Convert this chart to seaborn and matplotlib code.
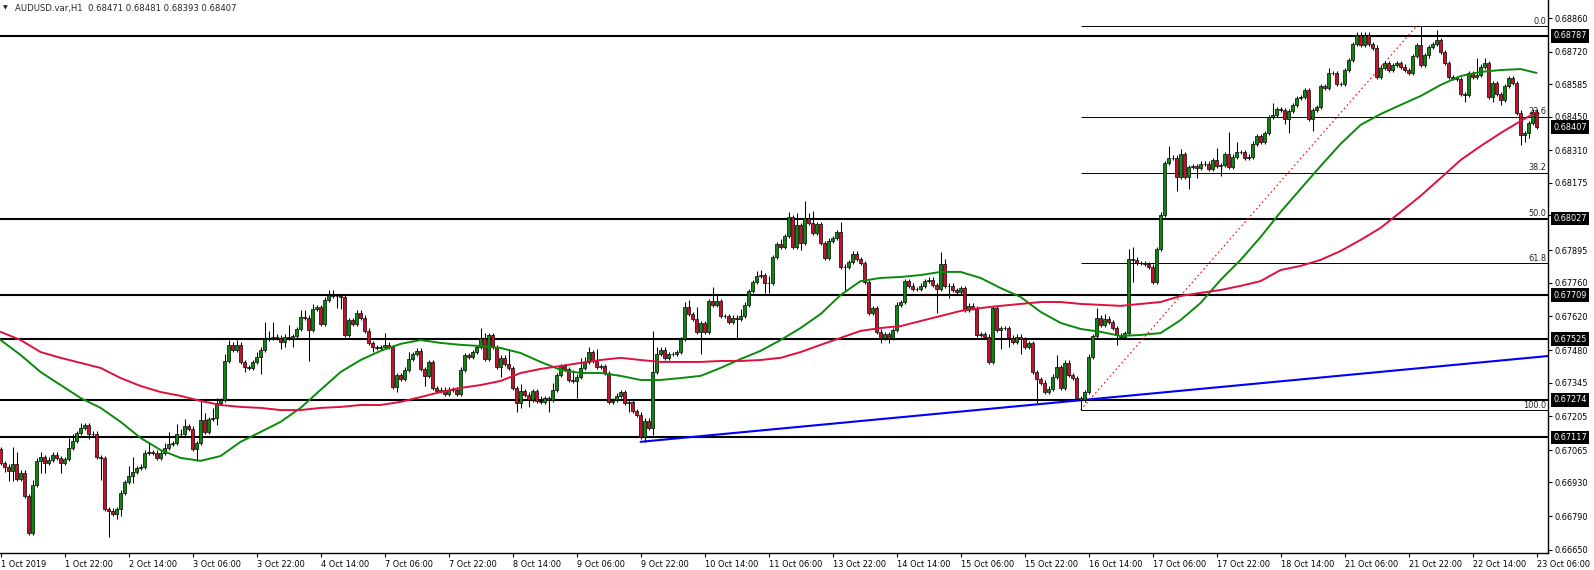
#!/usr/bin/env python3
"""AUDUSD H1 candles with MAs, levels, fibo and trendline -> out.png"""

import matplotlib
matplotlib.use("Agg")
import matplotlib.pyplot as plt
import matplotlib.transforms as mtransforms
import numpy as np
import pandas as pd
import seaborn as sns

TITLE = "AUDUSD.var,H1  0.68471 0.68481 0.68393 0.68407"

# hourly closes, 1 Oct 06:00 .. 23 Oct 06:00 (open of each bar = previous close)
FIRST_OPEN = 0.67069
CLOSE = [
    0.67011, 0.66995, 0.66978, 0.67007, 0.66945, 0.66970, 0.66874, 0.66720, 0.66920, 0.67020, 0.67036, 0.67011, 0.67024, 0.67045, 0.67032, 0.67011,
    0.67028, 0.67074, 0.67103, 0.67136, 0.67157, 0.67169, 0.67132, 0.67132, 0.67036, 0.67032, 0.66820, 0.66812, 0.66799, 0.66820, 0.66887, 0.66932,
    0.66957, 0.66974, 0.66990, 0.66995, 0.67053, 0.67057, 0.67053, 0.67032, 0.67053, 0.67074, 0.67090, 0.67094, 0.67132, 0.67132, 0.67165, 0.67153,
    0.67069, 0.67094, 0.67190, 0.67140, 0.67194, 0.67198, 0.67261, 0.67273, 0.67435, 0.67502, 0.67481, 0.67502, 0.67431, 0.67410, 0.67406, 0.67431,
    0.67452, 0.67481, 0.67526, 0.67531, 0.67535, 0.67531, 0.67514, 0.67535, 0.67531, 0.67539, 0.67568, 0.67618, 0.67614, 0.67564, 0.67651, 0.67659,
    0.67589, 0.67689, 0.67709, 0.67705, 0.67705, 0.67701, 0.67543, 0.67605, 0.67589, 0.67635, 0.67614, 0.67560, 0.67510, 0.67493, 0.67489, 0.67493,
    0.67502, 0.67493, 0.67327, 0.67377, 0.67360, 0.67398, 0.67443, 0.67464, 0.67477, 0.67402, 0.67373, 0.67431, 0.67323, 0.67310, 0.67315, 0.67298,
    0.67315, 0.67315, 0.67298, 0.67398, 0.67460, 0.67452, 0.67472, 0.67493, 0.67531, 0.67443, 0.67543, 0.67493, 0.67410, 0.67448, 0.67423, 0.67406,
    0.67323, 0.67261, 0.67310, 0.67294, 0.67273, 0.67310, 0.67269, 0.67265, 0.67281, 0.67273, 0.67315, 0.67377, 0.67414, 0.67402, 0.67356, 0.67352,
    0.67369, 0.67406, 0.67431, 0.67472, 0.67435, 0.67410, 0.67414, 0.67385, 0.67265, 0.67273, 0.67290, 0.67306, 0.67261, 0.67265, 0.67227, 0.67211,
    0.67119, 0.67186, 0.67157, 0.67389, 0.67464, 0.67481, 0.67448, 0.67464, 0.67464, 0.67472, 0.67526, 0.67659, 0.67630, 0.67610, 0.67556, 0.67593,
    0.67556, 0.67684, 0.67668, 0.67684, 0.67622, 0.67622, 0.67597, 0.67614, 0.67610, 0.67622, 0.67668, 0.67726, 0.67763, 0.67788, 0.67792, 0.67759,
    0.67759, 0.67867, 0.67921, 0.67909, 0.67954, 0.68033, 0.67909, 0.68000, 0.67925, 0.68029, 0.68008, 0.67967, 0.68004, 0.67925, 0.67863, 0.67934,
    0.67946, 0.67971, 0.67826, 0.67826, 0.67846, 0.67880, 0.67859, 0.67842, 0.67763, 0.67635, 0.67655, 0.67556, 0.67531, 0.67547, 0.67531, 0.67564,
    0.67668, 0.67680, 0.67767, 0.67747, 0.67734, 0.67734, 0.67747, 0.67767, 0.67772, 0.67751, 0.67734, 0.67838, 0.67747, 0.67747, 0.67730, 0.67722,
    0.67738, 0.67647, 0.67664, 0.67655, 0.67543, 0.67547, 0.67535, 0.67431, 0.67655, 0.67564, 0.67572, 0.67572, 0.67531, 0.67514, 0.67535, 0.67526,
    0.67493, 0.67510, 0.67389, 0.67360, 0.67344, 0.67306, 0.67319, 0.67369, 0.67410, 0.67323, 0.67427, 0.67377, 0.67364, 0.67281, 0.67273, 0.67306,
    0.67452, 0.67539, 0.67614, 0.67585, 0.67610, 0.67597, 0.67572, 0.67543, 0.67535, 0.67551, 0.67859, 0.67855, 0.67842, 0.67842, 0.67838, 0.67826,
    0.67763, 0.67900, 0.68042, 0.68258, 0.68279, 0.68279, 0.68200, 0.68295, 0.68200, 0.68241, 0.68245, 0.68237, 0.68254, 0.68254, 0.68233, 0.68270,
    0.68245, 0.68249, 0.68295, 0.68241, 0.68283, 0.68303, 0.68303, 0.68279, 0.68283, 0.68337, 0.68370, 0.68345, 0.68382, 0.68449, 0.68457, 0.68482,
    0.68478, 0.68441, 0.68474, 0.68499, 0.68528, 0.68532, 0.68561, 0.68441, 0.68478, 0.68490, 0.68578, 0.68569, 0.68632, 0.68632, 0.68586, 0.68586,
    0.68644, 0.68686, 0.68752, 0.68790, 0.68748, 0.68790, 0.68752, 0.68736, 0.68615, 0.68653, 0.68673, 0.68644, 0.68665, 0.68673, 0.68657, 0.68644,
    0.68632, 0.68702, 0.68748, 0.68665, 0.68706, 0.68740, 0.68752, 0.68769, 0.68719, 0.68673, 0.68615, 0.68611, 0.68607, 0.68544, 0.68540, 0.68632,
    0.68615, 0.68623, 0.68657, 0.68673, 0.68532, 0.68590, 0.68544, 0.68520, 0.68578, 0.68611, 0.68590, 0.68466, 0.68374, 0.68382, 0.68424, 0.68471,
    0.68407,
]

# wick lengths in pips above / below the body
UPPER_WICK = [
    1, 1, 1, 7, 5, 1, 1, 1, 2, 1, 2, 1, 1, 1, 1, 1,
    1, 4, 3, 1, 2, 1, 1, 1, 1, 1, 1, 1, 1, 1, 1, 1,
    4, 6, 1, 1, 1, 4, 1, 1, 1, 2, 5, 1, 4, 2, 3, 1,
    1, 1, 8, 3, 1, 4, 2, 1, 3, 2, 1, 2, 1, 1, 1, 1,
    2, 1, 7, 3, 6, 1, 1, 1, 5, 1, 1, 3, 3, 1, 2, 1,
    1, 1, 2, 2, 1, 1, 1, 1, 1, 1, 1, 1, 1, 1, 1, 1,
    5, 1, 1, 1, 1, 1, 3, 1, 1, 1, 1, 1, 1, 1, 1, 1,
    1, 1, 1, 1, 1, 1, 1, 1, 4, 2, 1, 1, 1, 1, 1, 6,
    1, 1, 3, 1, 1, 1, 1, 2, 1, 1, 3, 1, 1, 1, 1, 4,
    1, 4, 2, 2, 1, 5, 1, 1, 1, 1, 1, 1, 1, 1, 1, 1,
    1, 1, 1, 17, 3, 1, 1, 1, 1, 1, 1, 2, 3, 1, 5, 1,
    1, 1, 6, 3, 1, 1, 1, 1, 1, 3, 1, 1, 1, 2, 2, 1,
    3, 1, 1, 2, 1, 2, 1, 5, 1, 7, 2, 5, 1, 1, 1, 1,
    1, 1, 4, 1, 1, 1, 1, 1, 1, 1, 1, 1, 1, 1, 1, 1,
    1, 1, 1, 1, 1, 1, 1, 1, 1, 1, 1, 5, 2, 1, 1, 1,
    1, 1, 1, 1, 1, 1, 1, 1, 1, 1, 1, 1, 1, 1, 1, 1,
    1, 1, 1, 1, 1, 1, 1, 1, 5, 1, 1, 1, 1, 1, 1, 1,
    1, 1, 4, 1, 2, 1, 1, 1, 1, 1, 4, 5, 1, 1, 1, 1,
    1, 1, 1, 1, 5, 1, 1, 2, 1, 1, 1, 1, 1, 1, 1, 1,
    5, 1, 1, 9, 1, 4, 1, 1, 1, 1, 1, 1, 1, 1, 5, 1,
    1, 1, 1, 1, 1, 1, 1, 1, 1, 1, 1, 1, 2, 1, 1, 1,
    1, 1, 1, 1, 1, 1, 1, 1, 1, 1, 1, 1, 1, 1, 1, 1,
    1, 1, 1, 8, 1, 1, 1, 4, 1, 1, 1, 1, 1, 1, 1, 1,
    1, 7, 1, 2, 1, 1, 1, 1, 1, 1, 1, 1, 1, 1, 1, 1,
    1,
]
LOWER_WICK = [
    1, 2, 4, 4, 1, 1, 1, 1, 1, 1, 5, 4, 1, 1, 1, 4,
    1, 1, 1, 1, 1, 1, 2, 1, 1, 9, 1, 11, 1, 2, 3, 1,
    1, 3, 1, 1, 1, 1, 1, 1, 1, 1, 1, 1, 1, 1, 1, 1,
    1, 5, 1, 1, 1, 1, 3, 1, 1, 1, 1, 1, 1, 2, 1, 1,
    1, 7, 1, 1, 1, 1, 3, 2, 1, 4, 1, 1, 1, 13, 1, 1,
    1, 1, 1, 1, 5, 5, 1, 1, 1, 1, 1, 1, 1, 2, 1, 1,
    1, 1, 1, 2, 1, 1, 1, 1, 1, 1, 4, 1, 1, 1, 1, 1,
    1, 1, 1, 1, 1, 1, 1, 1, 1, 1, 1, 1, 1, 4, 1, 1,
    1, 4, 2, 1, 3, 1, 1, 1, 1, 5, 1, 1, 1, 1, 1, 1,
    7, 1, 1, 1, 1, 1, 1, 1, 1, 1, 1, 1, 1, 4, 1, 1,
    1, 2, 1, 3, 1, 1, 1, 1, 1, 1, 1, 1, 1, 1, 1, 9,
    1, 1, 1, 1, 1, 1, 1, 1, 8, 1, 1, 1, 1, 1, 1, 4,
    4, 1, 1, 1, 1, 1, 1, 1, 3, 1, 1, 1, 1, 1, 1, 1,
    1, 1, 1, 10, 1, 1, 1, 1, 1, 1, 1, 1, 2, 1, 2, 1,
    1, 1, 1, 1, 1, 1, 1, 1, 1, 1, 10, 1, 1, 5, 1, 1,
    1, 1, 1, 1, 1, 1, 1, 1, 1, 1, 8, 1, 4, 1, 1, 6,
    1, 1, 1, 10, 1, 1, 1, 1, 1, 1, 1, 1, 1, 1, 4, 1,
    1, 1, 1, 1, 1, 1, 1, 4, 1, 1, 1, 9, 1, 1, 1, 1,
    1, 1, 1, 1, 1, 1, 6, 1, 1, 5, 1, 4, 1, 1, 1, 1,
    1, 4, 1, 1, 1, 1, 1, 1, 1, 1, 1, 1, 1, 1, 1, 1,
    1, 2, 6, 1, 1, 1, 1, 1, 5, 1, 1, 1, 1, 1, 1, 1,
    1, 1, 1, 1, 1, 1, 1, 1, 1, 1, 1, 1, 1, 1, 1, 1,
    1, 1, 1, 1, 1, 1, 1, 1, 1, 1, 1, 1, 1, 1, 3, 1,
    1, 1, 1, 1, 1, 2, 1, 2, 1, 1, 1, 1, 4, 3, 2, 1,
    1,
]

# moving averages read every 5 bars
MA_BARS = list(range(0, 381, 5)) + [384]
MA_GREEN = [
    0.67522, 0.67460, 0.67389, 0.67335, 0.67281, 0.67240, 0.67182, 0.67115, 0.67065, 0.67032,
    0.67020, 0.67040, 0.67099, 0.67140, 0.67182, 0.67240, 0.67315, 0.67389, 0.67439, 0.67477,
    0.67506, 0.67522, 0.67510, 0.67502, 0.67497, 0.67489, 0.67468, 0.67431, 0.67398, 0.67385,
    0.67385, 0.67373, 0.67356, 0.67356, 0.67364, 0.67373, 0.67406, 0.67443, 0.67477, 0.67522,
    0.67572, 0.67630, 0.67709, 0.67767, 0.67780, 0.67784, 0.67792, 0.67805, 0.67805, 0.67780,
    0.67738, 0.67701, 0.67639, 0.67593, 0.67568, 0.67556, 0.67539, 0.67543, 0.67551, 0.67605,
    0.67676, 0.67772, 0.67855, 0.67950, 0.68054, 0.68150, 0.68245, 0.68337, 0.68416, 0.68461,
    0.68499, 0.68536, 0.68582, 0.68619, 0.68636, 0.68644, 0.68648, 0.68632,
]
MA_RED = [
    0.67556, 0.67522, 0.67472, 0.67448, 0.67427, 0.67406, 0.67364, 0.67331, 0.67306, 0.67290,
    0.67269, 0.67252, 0.67244, 0.67240, 0.67231, 0.67231, 0.67240, 0.67244, 0.67252, 0.67252,
    0.67265, 0.67285, 0.67306, 0.67323, 0.67335, 0.67352, 0.67385, 0.67402, 0.67414, 0.67427,
    0.67439, 0.67448, 0.67439, 0.67431, 0.67431, 0.67431, 0.67435, 0.67435, 0.67439, 0.67448,
    0.67472, 0.67502, 0.67531, 0.67560, 0.67572, 0.67580, 0.67601, 0.67622, 0.67643, 0.67655,
    0.67664, 0.67672, 0.67680, 0.67680, 0.67672, 0.67668, 0.67664, 0.67672, 0.67680, 0.67705,
    0.67718, 0.67730, 0.67747, 0.67767, 0.67813, 0.67830, 0.67855, 0.67892, 0.67938, 0.67988,
    0.68054, 0.68121, 0.68195, 0.68270, 0.68328, 0.68382, 0.68432, 0.68470,
]

LEVELS = [0.68787, 0.68027, 0.67709, 0.67525, 0.67274, 0.67117]
CURRENT = 0.68407
FIB_RATIOS = [0.0, 23.6, 38.2, 50.0, 61.8, 100.0]
FIB_LOW = (270, 0.67231)
FIB_HIGH = (354, 0.68827)
TREND_A = (160, 0.67099)
TREND_B = (384, 0.67451)

Y_TICKS = [0.68860, 0.68720, 0.68585, 0.68450, 0.68310, 0.68175, 0.68040, 0.67895, 0.67760,
           0.67620, 0.67480, 0.67345, 0.67205, 0.67065, 0.66930, 0.66790, 0.66650]
X_LABELS = ["1 Oct 2019", "1 Oct 22:00", "2 Oct 14:00", "3 Oct 06:00", "3 Oct 22:00",
            "4 Oct 14:00", "7 Oct 06:00", "7 Oct 22:00", "8 Oct 14:00", "9 Oct 06:00",
            "9 Oct 22:00", "10 Oct 14:00", "11 Oct 06:00", "13 Oct 22:00", "14 Oct 14:00",
            "15 Oct 06:00", "15 Oct 22:00", "16 Oct 14:00", "17 Oct 06:00", "17 Oct 22:00",
            "18 Oct 14:00", "21 Oct 06:00", "21 Oct 22:00", "22 Oct 14:00", "23 Oct 06:00"]

BULL = "#0a8a0a"
BEAR = "#c8102e"
FS = 5.9

sns.set_theme(style="white")
plt.rcParams["font.family"] = ["DejaVu Sans"]

closes = np.array(CLOSE)
opens = np.r_[FIRST_OPEN, closes[:-1]]
highs = np.maximum(opens, closes) + np.array(UPPER_WICK) * 1e-4
lows = np.minimum(opens, closes) - np.array(LOWER_WICK) * 1e-4
bars = np.arange(len(closes))
colors = np.where(closes >= opens, BULL, BEAR)

fig = plt.figure(figsize=(15.94, 5.70), dpi=100)
ax = fig.add_axes([0, 17 / 570, 1548 / 1594, 553 / 570])
XMIN, XMAX = -0.15, 386.85
ax.set_xlim(XMIN, XMAX)
ax.set_ylim(0.66637, 0.68935)

# horizontal levels
for lv in LEVELS:
    ax.axhline(lv, color="black", lw=1.5, zorder=1)

# fibonacci retracement
span = FIB_HIGH[1] - FIB_LOW[1]
for r in FIB_RATIOS:
    lv = FIB_HIGH[1] - span * r / 100
    ax.hlines(lv, FIB_LOW[0] + 0.1, XMAX, color="black", lw=0.7, zorder=1)
    ax.text(XMAX - 0.4, lv + 0.00002, f"{r:.1f}", ha="right", va="bottom",
            fontsize=FS, color="#202020", zorder=6)
ax.plot([FIB_LOW[0], FIB_HIGH[0]], [FIB_LOW[1], FIB_HIGH[1]],
        color="red", lw=0.8, ls=(0, (1.5, 2.5)), zorder=2)

# trendline (ray to the right)
slope = (TREND_B[1] - TREND_A[1]) / (TREND_B[0] - TREND_A[0])
ray = pd.DataFrame({"bar": [TREND_A[0], XMAX],
                    "price": [TREND_A[1], TREND_A[1] + slope * (XMAX - TREND_A[0])]})
sns.lineplot(data=ray, x="bar", y="price", ax=ax, color="#0000ff", lw=1.5,
             estimator=None, zorder=2)

# candles
ax.vlines(bars, lows, highs, color="black", lw=0.75, zorder=3)
ax.bar(bars, closes - opens, bottom=opens, width=0.62, color=colors,
       edgecolor="black", linewidth=0.5, zorder=4)

# moving averages
ma = pd.DataFrame({"bar": MA_BARS, "green": MA_GREEN, "red": MA_RED})
sns.lineplot(data=ma, x="bar", y="green", ax=ax, color="#0a8a0a", lw=1.4,
             estimator=None, zorder=5)
sns.lineplot(data=ma, x="bar", y="red", ax=ax, color="#e0103c", lw=1.4,
             estimator=None, zorder=5)

# axes styling
ax.grid(False)
for side in ("left", "top"):
    ax.spines[side].set_visible(False)
for side in ("right", "bottom"):
    ax.spines[side].set_color("black")
    ax.spines[side].set_linewidth(1.0)
ax.set_xlabel("")
ax.set_ylabel("")
ax.yaxis.tick_right()
ax.set_yticks(Y_TICKS)
ax.set_yticklabels([f"{v:.5f}" for v in Y_TICKS])
ax.set_xticks(np.arange(0, 385, 16))
ax.set_xticklabels(X_LABELS)
for lbl in ax.get_xticklabels():
    lbl.set_ha("left")
ax.tick_params(axis="y", right=True, left=False, length=3, width=0.8, pad=2,
               labelsize=FS, colors="black")
ax.tick_params(axis="x", bottom=True, length=3, width=0.8, pad=2,
               labelsize=FS, colors="black")

# price boxes on the scale
trans = mtransforms.blended_transform_factory(ax.transAxes, ax.transData)
for lv in LEVELS + [CURRENT]:
    ax.text(1.0 + 5 / 1548, lv, f"{lv:.5f}", transform=trans, color="white",
            fontsize=FS, ha="left", va="center", clip_on=False, zorder=10,
            bbox=dict(boxstyle="square,pad=0.3", fc="black", ec="none"))

# header
fig.text(3 / 1594, 1 - 8 / 570, "\u25bc", fontsize=4.5, ha="left", va="center")
fig.text(15 / 1594, 1 - 8 / 570, TITLE, fontsize=6.1, ha="left", va="center")

fig.savefig("out.png", dpi=100)
plt.close(fig)
print("wrote out.png")
